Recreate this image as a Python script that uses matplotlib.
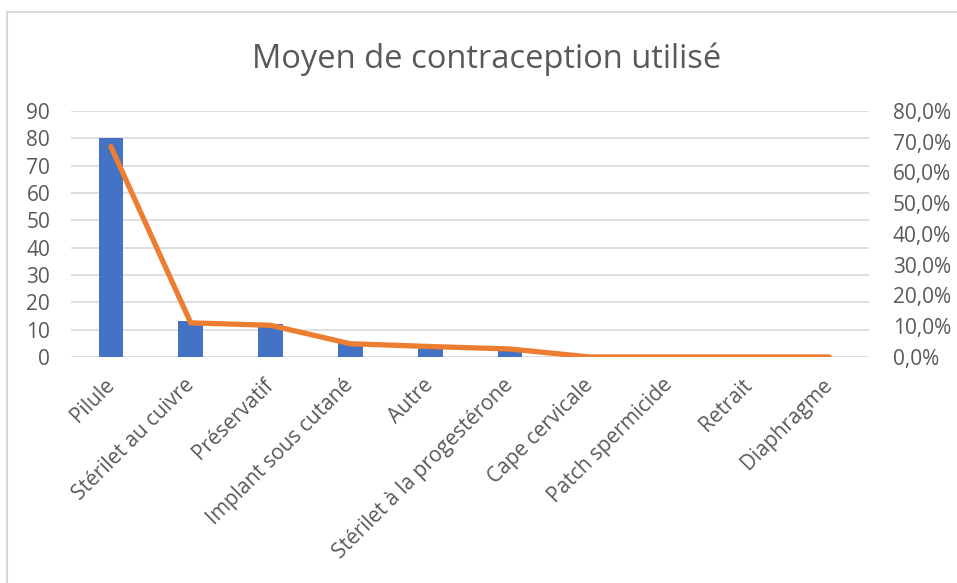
import numpy as np
import matplotlib.pyplot as plt
from matplotlib.lines import Line2D
from matplotlib.ticker import FuncFormatter

# data
categories = ['Pilule', 'Stérilet au cuivre', 'Préservatif', 'Implant sous cutané', 'Autre',
              'Stérilet à la progestérone', 'Cape cervicale', 'Patch spermicide', 'Retrait', 'Diaphragme']
counts = [80, 13, 12, 5, 4, 3, 0, 0, 0, 0]
percents = [68.4, 11.1, 10.3, 4.3, 3.4, 2.6, 0.0, 0.0, 0.0, 0.0]

grey = '#595959'
plt.rcParams['font.family'] = ['Open Sans', 'DejaVu Sans']

fig = plt.figure(figsize=(9.57, 5.83), dpi=100)
ax = fig.add_axes([0.0742, 0.3877, 0.834, 0.422])
x = np.arange(len(categories))

ax.bar(x, counts, width=0.31, color='#4472C4', zorder=2)
ax.set_ylim(0, 90)
ax.set_yticks(range(0, 91, 10))
ax.set_xlim(-0.5, len(categories) - 0.5)
ax.grid(axis='y', color='#D9D9D9', linewidth=1.2, zorder=0)
ax.set_axisbelow(True)
for s in ax.spines.values():
    s.set_visible(False)
ax.tick_params(axis='both', length=0, colors=grey, labelsize=15)
ax.tick_params(axis='y', pad=15)
ax.set_xticks(x)
ax.set_xticklabels(categories, rotation=45, ha='right', va='center', rotation_mode='anchor')
ax.tick_params(axis='x', pad=18)

# percentage line on the right axis
ax2 = ax.twinx()
ax2.plot(x, percents, color='#ED7D31', linewidth=3.8, solid_capstyle='round',
         solid_joinstyle='round', zorder=3)
ax2.set_ylim(0, 80)
ax2.set_yticks(range(0, 81, 10))
ax2.yaxis.set_major_formatter(FuncFormatter(lambda v, p: f'{v:.1f}%'.replace('.', ',')))
for s in ax2.spines.values():
    s.set_visible(False)
ax2.tick_params(axis='y', length=0, colors=grey, labelsize=15, pad=17)

fig.text(0.509, 0.898, 'Moyen de contraception utilisé', ha='center', va='center',
         fontsize=23.5, color=grey)

# chart frame: only the top and left edges show in the screenshot
fig.lines.append(Line2D([0.0073, 1.0], [0.9794, 0.9794], transform=fig.transFigure,
                        color='#D9D9D9', linewidth=1.5))
fig.lines.append(Line2D([0.0073, 0.0073], [0.0, 0.9794], transform=fig.transFigure,
                        color='#D9D9D9', linewidth=1.5))

fig.savefig('out.png', dpi=100)
